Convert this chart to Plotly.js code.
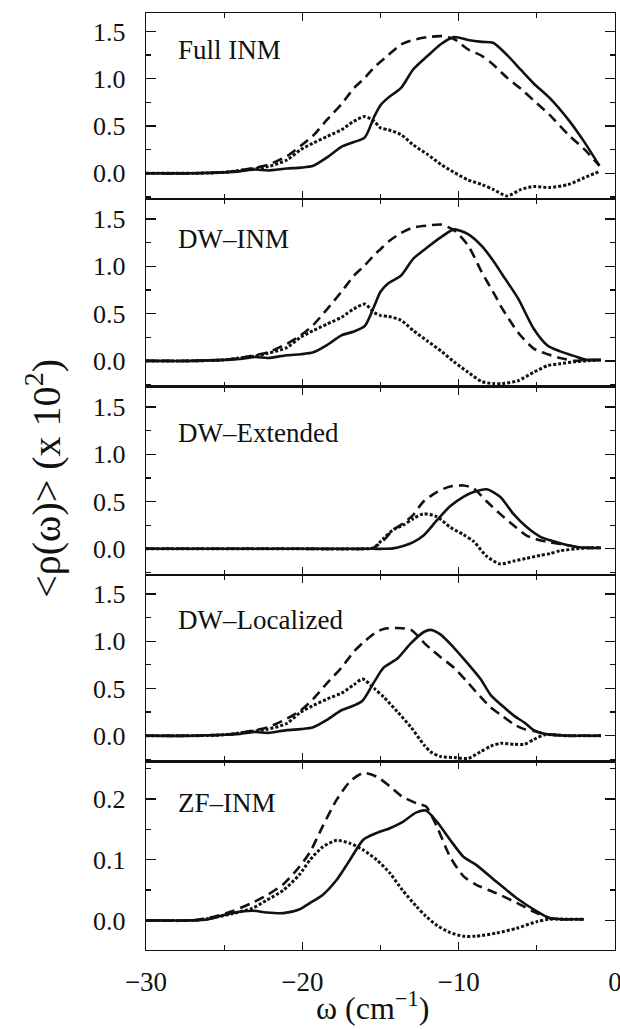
<!DOCTYPE html>
<html>
<head>
<meta charset="utf-8">
<script src="https://cdn.plot.ly/plotly-3.0.1.min.js"></script>
<style>
  html, body { margin: 0; padding: 0; background: #fff; }
  #chart { width: 620px; height: 1029px; }
</style>
</head>
<body>
<div id="chart"></div>
<script>
// Averaged density of states <rho(omega)> (x 10^2) for five normal-mode treatments.
// Solid, dashed and dotted curves per panel.

const panelNames = ['Full INM', 'DW\u2013INM', 'DW\u2013Extended', 'DW\u2013Localized', 'ZF\u2013INM'];

// Full INM
const omegaFull = [-30,-27,-25,-24,-23,-22.2,-21,-20.1,-19.3,-18.4,-17.5,-16.7,-16.0,-15.4,-15.0,-14.5,-13.7,-12.9,-12.0,-11.1,-10.3,-9.4,-8.5,-7.8,-6.9,-6.0,-5.2,-4.2,-3.0,-2.0,-1.0];
const solidFull = [0,0,0.01,0.02,0.04,0.03,0.05,0.06,0.08,0.17,0.28,0.33,0.38,0.60,0.72,0.80,0.90,1.10,1.24,1.37,1.44,1.41,1.39,1.38,1.25,1.09,0.95,0.80,0.57,0.34,0.08];
const dashFull  = [0,0,0.01,0.03,0.06,0.09,0.18,0.29,0.40,0.57,0.73,0.90,1.01,1.12,1.18,1.25,1.36,1.41,1.44,1.45,1.42,1.31,1.24,1.15,1.01,0.89,0.77,0.62,0.41,0.26,0.08];
const dotFull   = [0,0,0.01,0.03,0.05,0.07,0.14,0.25,0.32,0.39,0.46,0.55,0.60,0.55,0.48,0.46,0.41,0.30,0.20,0.09,0.01,-0.07,-0.12,-0.17,-0.24,-0.17,-0.14,-0.15,-0.12,-0.05,0.02];

// DW-INM
const omegaDwInm = [-30,-27,-25,-24,-23,-22.2,-21,-20.1,-19.3,-18.4,-17.5,-16.7,-16.0,-15.4,-15.0,-14.5,-13.7,-12.9,-12.0,-11.1,-10.3,-9.4,-8.5,-7.8,-7.2,-6.2,-5.2,-4.3,-3.5,-2.6,-1.8,-0.9];
const solidDwInm = [0,0,0.01,0.02,0.04,0.03,0.06,0.07,0.09,0.17,0.27,0.31,0.37,0.58,0.73,0.82,0.90,1.08,1.20,1.31,1.39,1.34,1.21,1.06,0.91,0.66,0.34,0.16,0.10,0.05,0.01,0.01];
const dashDwInm  = [0,0,0.01,0.03,0.06,0.09,0.18,0.27,0.38,0.55,0.73,0.90,1.01,1.12,1.18,1.26,1.35,1.41,1.43,1.44,1.38,1.22,0.93,0.73,0.55,0.30,0.13,0.07,0.03,0.0,0.01,0.01];
const dotDwInm   = [0,0,0.01,0.03,0.05,0.08,0.14,0.25,0.32,0.39,0.46,0.55,0.60,0.51,0.48,0.47,0.43,0.32,0.21,0.10,-0.01,-0.12,-0.22,-0.24,-0.24,-0.21,-0.12,-0.05,-0.03,-0.01,0.0,0.01];

// DW-Extended
const omegaDwExt = [-30,-20,-16,-15.45,-14.8,-14.2,-13.55,-12.9,-12.25,-11.4,-10.55,-9.7,-9.05,-8.2,-7.35,-6.5,-5.65,-4.8,-4.15,-3.5,-2.45,-1.6,-0.9];
const solidDwExt = [0,0,0,0,0,0.005,0.03,0.07,0.14,0.30,0.45,0.55,0.60,0.63,0.55,0.37,0.23,0.13,0.09,0.06,0.02,0.01,0.01];
const dashDwExt  = [0,0,0,0.01,0.09,0.20,0.27,0.36,0.50,0.60,0.66,0.67,0.64,0.50,0.37,0.25,0.14,0.09,0.07,0.05,0.02,0.01,0.01];
const dotDwExt   = [0,0,0,0.01,0.11,0.20,0.25,0.32,0.37,0.34,0.23,0.15,0.08,-0.08,-0.16,-0.13,-0.10,-0.07,-0.05,-0.02,0.0,0.01,0.01];

// DW-Localized
const omegaDwLoc = [-30,-27,-25,-24,-23,-22.2,-21,-20.1,-19.3,-18.4,-17.5,-16.7,-16.15,-15.4,-14.8,-13.9,-13.05,-12.2,-11.8,-11.15,-10.3,-9.4,-8.6,-7.95,-7.3,-6.45,-5.8,-5.2,-4.5,-3.0,-2.0,-0.9];
const solidDwLoc = [0,0,0.01,0.02,0.04,0.03,0.06,0.07,0.09,0.17,0.27,0.32,0.37,0.57,0.72,0.82,0.98,1.10,1.12,1.07,0.93,0.76,0.60,0.43,0.33,0.21,0.14,0.06,0.02,0,0,0];
const dashDwLoc  = [0,0,0.01,0.03,0.06,0.09,0.18,0.27,0.39,0.56,0.72,0.89,0.98,1.08,1.13,1.14,1.12,0.98,0.92,0.83,0.72,0.56,0.41,0.30,0.22,0.12,0.07,0.05,0.02,0,0,0];
const dotDwLoc   = [0,0,0.01,0.03,0.05,0.07,0.13,0.25,0.32,0.39,0.45,0.54,0.60,0.50,0.41,0.25,0.09,-0.10,-0.17,-0.22,-0.23,-0.24,-0.17,-0.11,-0.08,-0.09,-0.09,-0.04,0.01,0,0,0];

// ZF-INM
const omegaZf = [-30,-27,-26,-24.5,-23.2,-22.3,-21.2,-20.2,-19.5,-18.7,-17.8,-16.95,-16.1,-15.25,-14.4,-13.6,-12.7,-12.1,-11.4,-10.55,-9.7,-8.9,-7.6,-6.3,-5.0,-4.2,-3.3,-2.0];
const solidZf = [0,0,0.002,0.012,0.016,0.013,0.012,0.018,0.029,0.042,0.067,0.100,0.133,0.144,0.152,0.162,0.178,0.181,0.163,0.133,0.105,0.092,0.064,0.037,0.015,0.004,0.002,0.002];
const dashZf  = [0,0,0.004,0.015,0.029,0.041,0.060,0.088,0.113,0.155,0.199,0.229,0.243,0.237,0.221,0.204,0.193,0.188,0.155,0.105,0.073,0.059,0.045,0.029,0.012,0.004,0.002,0.002];
const dotZf   = [0,0,0.003,0.011,0.020,0.033,0.050,0.075,0.100,0.121,0.132,0.127,0.116,0.100,0.078,0.050,0.023,0.007,-0.008,-0.020,-0.026,-0.026,-0.021,-0.013,-0.002,0.002,0.002,0.002];

const panelData = [
  {w: omegaFull,  s: solidFull,  d: dashFull,  p: dotFull},
  {w: omegaDwInm, s: solidDwInm, d: dashDwInm, p: dotDwInm},
  {w: omegaDwExt, s: solidDwExt, d: dashDwExt, p: dotDwExt},
  {w: omegaDwLoc, s: solidDwLoc, d: dashDwLoc, p: dotDwLoc},
  {w: omegaZf,    s: solidZf,    d: dashZf,    p: dotZf}
];

// y-axis ranges per panel (values x 10^2)
const yRanges = [[-0.271, 1.695], [-0.272, 1.712], [-0.278, 1.716], [-0.272, 1.699], [-0.0488, 0.262]];
const yDomains = [[0.8016, 1], [0.6013, 0.8016], [0.4001, 0.6013], [0.2012, 0.4001], [0, 0.2012]];

const serif = "'Liberation Serif', 'Times New Roman', Times, serif";
const ink = '#111';

const traces = [];
const styles = [
  {key: 's', dash: 'solid', width: 2.6},
  {key: 'd', dash: '10px,6px', width: 2.6},
  {key: 'p', dash: '3px,2px', width: 3}
];
panelData.forEach((pd, i) => {
  const n = i + 1;
  styles.forEach(st => {
    traces.push({
      x: pd.w, y: pd[st.key],
      xaxis: 'x' + (n === 1 ? '' : n), yaxis: 'y' + (n === 1 ? '' : n),
      type: 'scatter', mode: 'lines',
      line: {color: ink, width: st.width, dash: st.dash, shape: 'spline', smoothing: 0.7},
      hoverinfo: 'skip', showlegend: false
    });
  });
});

const layout = {
  width: 620, height: 1029,
  margin: {l: 146, r: 5, t: 13, b: 79},
  paper_bgcolor: '#fff', plot_bgcolor: '#fff',
  showlegend: false,
  font: {family: serif, color: ink, size: 26},
  annotations: []
};

for (let i = 0; i < 5; i++) {
  const n = i + 1;
  const sx = n === 1 ? '' : String(n);
  const last = n === 5;
  layout['xaxis' + sx] = {
    anchor: 'y' + sx, domain: [0, 1], range: [-30, 0],
    dtick: 10, tick0: 0, ticks: 'inside', ticklen: 8, tickwidth: 1.3, tickcolor: ink,
    minor: {dtick: 5, tick0: 0, ticks: 'inside', ticklen: 5, tickwidth: 1.3, tickcolor: ink, showgrid: false},
    showline: true, linecolor: ink, linewidth: 1.2, mirror: 'allticks',
    showgrid: false, zeroline: false,
    showticklabels: last, ticklabelstandoff: 7, ticklabeloverflow: 'allow',
    tickfont: {family: serif, size: 27, color: ink},
    fixedrange: true
  };
  if (n > 1) layout['xaxis' + sx].matches = 'x';
  const big = n < 5;
  layout['yaxis' + sx] = {
    anchor: 'x' + sx, domain: yDomains[i], range: yRanges[i],
    dtick: big ? 0.5 : 0.1, tick0: 0, tickformat: '.1f',
    ticks: 'inside', ticklen: 10, tickwidth: 1.3, tickcolor: ink,
    minor: {dtick: big ? 0.25 : 0.05, tick0: 0, ticks: 'inside', ticklen: 5, tickwidth: 1.3, tickcolor: ink, showgrid: false},
    showline: true, linecolor: ink, linewidth: 1.2, mirror: 'allticks',
    showgrid: false, zeroline: false,
    ticklabelstandoff: 14,
    tickfont: {family: serif, size: 26, color: ink},
    fixedrange: true
  };
}

// panel labels
const labelY = [0.9605, 0.759, 0.5521, 0.3524, 0.1572];
panelNames.forEach((name, i) => {
  layout.annotations.push({
    text: name, xref: 'paper', yref: 'paper', x: 0.064, y: labelY[i],
    xanchor: 'left', yanchor: 'middle', showarrow: false,
    font: {family: serif, size: 27, color: ink}
  });
});

// axis titles
layout.annotations.push({
  text: '\u03c9 (cm<sup>\u22121</sup>)', xref: 'paper', yref: 'paper', x: 0.482, y: -0.06,
  xanchor: 'center', yanchor: 'middle', showarrow: false,
  font: {family: serif, size: 32, color: ink}
});
layout.annotations.push({
  text: '&lt;\u03c1(\u03c9)&gt; (x 10<sup>2</sup>)', xref: 'paper', yref: 'paper', x: -0.2175, y: 0.504,
  xanchor: 'center', yanchor: 'middle', textangle: -90, showarrow: false,
  font: {family: serif, size: 40, color: ink}
});

Plotly.newPlot('chart', traces, layout, {displayModeBar: false, staticPlot: true});
</script>
</body>
</html>
